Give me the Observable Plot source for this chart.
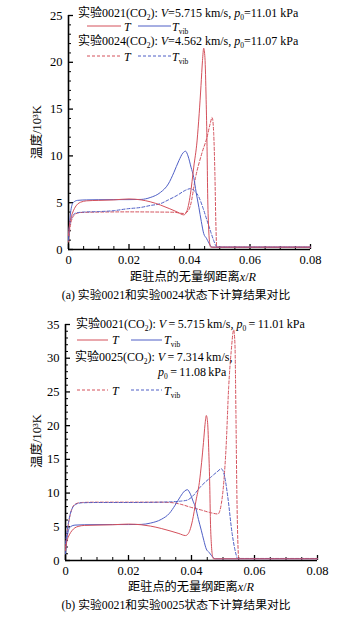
<!DOCTYPE html>
<html><head><meta charset="utf-8">
<script src="https://cdn.jsdelivr.net/npm/d3@7"></script>
<script src="https://cdn.jsdelivr.net/npm/@observablehq/plot@0.6"></script>
<style>
html,body{margin:0;padding:0;background:#fff;}
#wrap{position:relative;width:358px;height:619px;overflow:hidden;font-family:"Liberation Serif","Noto Sans CJK SC",serif;color:#000;}
.abs{position:absolute;white-space:nowrap;line-height:1;}
.sub{font-size:7.5px;position:relative;top:3px;}
.lg{font-size:12px;transform:translateY(-50%);}
.ctr{transform:translate(-50%,-50%);}
</style></head><body><div id="wrap"></div>
<script>
// ---------- data ----------
// Experiment 0021 (CO2): translational temperature T (10^3 K)
const x0021T = [0, 0.0004, 0.0008, 0.0012, 0.002, 0.003, 0.004, 0.006, 0.01, 0.015, 0.02, 0.024, 0.027, 0.0304, 0.0335, 0.036, 0.0381, 0.039, 0.0403, 0.0414, 0.0425, 0.0432, 0.0438, 0.0443, 0.0447, 0.0451, 0.0455, 0.0458, 0.046, 0.0463, 0.0467, 0.047, 0.08];
const T0021 = [1.5, 2.8, 3.4, 3.8, 4.4, 4.85, 5.05, 5.2, 5.25, 5.3, 5.4, 5.3, 5.1, 4.75, 4.35, 4.0, 3.7, 4.0, 5.9, 8.8, 11.6, 14.5, 17.5, 20.2, 21.5, 20.5, 16, 11, 6, 2.5, 0.6, 0.25, 0.25];
// Experiment 0021: vibrational temperature Tvib
const x0021V = [0, 0.0004, 0.0008, 0.0012, 0.0017, 0.003, 0.006, 0.01, 0.015, 0.02, 0.024, 0.027, 0.0304, 0.033, 0.0348, 0.0365, 0.0378, 0.0387, 0.0395, 0.0405, 0.0414, 0.0422, 0.0431, 0.0439, 0.0447, 0.0456, 0.0464, 0.0472, 0.0476, 0.08];
const Tvib0021 = [1.0, 3.0, 4.2, 4.8, 5.05, 5.25, 5.3, 5.32, 5.33, 5.33, 5.35, 5.55, 6.1, 7.0, 8.2, 9.5, 10.3, 10.5, 10.0, 8.8, 7.7, 6.1, 4.5, 3.0, 1.7, 1.2, 0.7, 0.3, 0.25, 0.25];
// Experiment 0024
const x0024T = [0, 0.0005, 0.001, 0.0017, 0.0023, 0.004, 0.01, 0.02, 0.03, 0.0348, 0.038, 0.0395, 0.0403, 0.042, 0.0442, 0.0458, 0.0468, 0.0475, 0.048, 0.0484, 0.0487, 0.049, 0.08];
const T0024 = [0.8, 2.3, 3.1, 3.6, 3.8, 3.95, 4.0, 4.02, 4.0, 3.98, 3.85, 4.1, 4.7, 7.7, 10.4, 12.0, 13.4, 14.1, 12.4, 8.0, 3.0, 0.25, 0.25];
const x0024V = [0, 0.0005, 0.001, 0.0017, 0.0025, 0.005, 0.01, 0.015, 0.0194, 0.024, 0.027, 0.0304, 0.033, 0.036, 0.0385, 0.0403, 0.0415, 0.0431, 0.0445, 0.0458, 0.047, 0.048, 0.0487, 0.0491, 0.08];
const Tvib0024 = [1.6, 2.8, 3.4, 3.75, 3.9, 4.0, 4.05, 4.15, 4.35, 4.5, 4.7, 4.9, 5.3, 5.8, 6.3, 6.5, 6.3, 5.6, 4.4, 3.1, 1.9, 0.96, 0.4, 0.25, 0.25];
// Experiment 0025
const x0025T = [0, 0.0005, 0.001, 0.0015, 0.002, 0.0032, 0.005, 0.01, 0.02, 0.03, 0.0333, 0.0365, 0.0397, 0.043, 0.046, 0.0484, 0.0495, 0.0503, 0.051, 0.0518, 0.0526, 0.0534, 0.0538, 0.0541, 0.0544, 0.0547, 0.055, 0.08];
const T0025 = [2.0, 4.0, 5.6, 6.8, 7.6, 8.4, 8.6, 8.65, 8.65, 8.65, 8.6, 8.35, 7.9, 7.5, 7.1, 6.9, 8.5, 11.9, 17, 25.7, 31, 34.2, 32, 22, 10, 3, 0.3, 0.3];
const x0025V = [0, 0.0005, 0.001, 0.0015, 0.002, 0.0032, 0.005, 0.01, 0.02, 0.03, 0.0333, 0.0365, 0.0386, 0.0405, 0.0428, 0.046, 0.048, 0.0495, 0.0505, 0.0515, 0.0529, 0.0537, 0.0542, 0.0546, 0.08];
const Tvib0025 = [2.5, 4.4, 5.8, 6.9, 7.6, 8.3, 8.55, 8.6, 8.6, 8.65, 8.7, 8.8, 8.95, 9.6, 10.9, 12.3, 13.1, 13.6, 12.5, 9.5, 4.0, 1.8, 0.8, 0.3, 0.3];

// tick labels
const xMajor = [0, 0.02, 0.04, 0.06, 0.08];
const xTickLabels = ["0", "0.02", "0.04", "0.06", "0.08"];
const xMinor = [0.005, 0.01, 0.015, 0.025, 0.03, 0.035, 0.045, 0.05, 0.055, 0.065, 0.07, 0.075];
const yMajorA = [0, 5, 10, 15, 20, 25];
const yMajorB = [0, 5, 10, 15, 20, 25, 30, 35];

// legend / text values
const expA = ["0021", "0024"], velA = ["5.715", "4.562"], presA = ["11.01", "11.07"];
const expB = ["0021", "0025"], velB = ["5.715", "7.314"], presB = ["11.01", "11.08"];
const xLabel = "距驻点的无量纲距离";
const yLabel = "温度/10³K";
const captionA = "(a) 实验0021和实验0024状态下计算结果对比";
const captionB = "(b) 实验0021和实验0025状态下计算结果对比";

const RED = "#d4505b", BLUE = "#4f5fc6";
const DASH = "3,2";

// ---------- helpers ----------
const rows = (xs, ys) => xs.map((x, i) => ({x, t: ys[i]}));
const FONT = "'Liberation Serif','Noto Sans CJK SC',serif";

function chart({yMax, yMajor, series, height, mt, mb, ml, mr}) {
  const yMinor = d3.range(0, yMax + 0.001, 1).filter(v => v % 5 !== 0);
  return Plot.plot({
    width: 358, height, marginTop: mt, marginBottom: mb, marginLeft: ml, marginRight: mr,
    style: {fontFamily: FONT, fontSize: "12.5px", color: "#000", background: "none", overflow: "visible"},
    x: {domain: [0, 0.08]},
    y: {domain: [0, yMax]},
    marks: [
      Plot.ruleX([0], {stroke: "#000", strokeWidth: 1.6}),
      Plot.ruleY([0], {stroke: "#000", strokeWidth: 1.6}),
      Plot.axisX({ticks: xMinor, tickSize: -3, tickFormat: () => "", label: null, strokeWidth: 1}),
      Plot.axisX({ticks: xMajor, tickSize: -5, tickPadding: 11, tickFormat: d => xTickLabels[xMajor.indexOf(d)], label: null, strokeWidth: 1.3}),
      Plot.axisY({ticks: yMinor, tickSize: -3, tickFormat: () => "", label: null, strokeWidth: 1}),
      Plot.axisY({ticks: yMajor, tickSize: -5, tickPadding: 11, tickFormat: d => String(d), label: null, strokeWidth: 1.3}),
      ...series.map(s => Plot.line(s.data, {x: "x", y: "t", stroke: s.color, strokeWidth: 1, strokeDasharray: s.dash || null, curve: "monotone-x"}))
    ]
  });
}

const wrap = document.getElementById("wrap");
function place(node, left, top) {
  const d = document.createElement("div");
  d.className = "abs";
  d.style.left = left + "px"; d.style.top = top + "px";
  d.appendChild(node);
  wrap.appendChild(d);
  return d;
}
function html(str, left, top, cls, size) {
  const d = document.createElement("div");
  d.className = "abs " + (cls || "");
  d.style.left = left + "px"; d.style.top = top + "px";
  if (size) d.style.fontSize = size + "px";
  d.innerHTML = str;
  wrap.appendChild(d);
  return d;
}
function sample(x1, x2, y, color, dash) {
  const ns = "http://www.w3.org/2000/svg";
  const svg = document.createElementNS(ns, "svg");
  svg.setAttribute("width", x2 - x1); svg.setAttribute("height", 4);
  svg.style.position = "absolute"; svg.style.left = x1 + "px"; svg.style.top = (y - 2) + "px";
  const l = document.createElementNS(ns, "line");
  l.setAttribute("x1", 0); l.setAttribute("x2", x2 - x1); l.setAttribute("y1", 2); l.setAttribute("y2", 2);
  l.setAttribute("stroke", color); l.setAttribute("stroke-width", 1);
  if (dash) l.setAttribute("stroke-dasharray", dash);
  svg.appendChild(l);
  wrap.appendChild(svg);
}
const sub = s => `<span class="sub">${s}</span>`;
const TS = "\u2009";

// ---------- chart (a) ----------
const svgA = chart({
  yMax: 25, yMajor: yMajorA, height: 270, mt: 15, mb: 21, ml: 68, mr: 48,
  series: [
    {data: rows(x0024T, T0024), color: RED, dash: DASH},
    {data: rows(x0024V, Tvib0024), color: BLUE, dash: DASH},
    {data: rows(x0021V, Tvib0021), color: BLUE},
    {data: rows(x0021T, T0021), color: RED}
  ]
});
place(svgA, 0, 0);

// ---------- chart (b) ----------
const svgB = chart({
  yMax: 35, yMajor: yMajorB, height: 275, mt: 14, mb: 25, ml: 65, mr: 41,
  series: [
    {data: rows(x0025T, T0025), color: RED, dash: DASH},
    {data: rows(x0025V, Tvib0025), color: BLUE, dash: DASH},
    {data: rows(x0021V, Tvib0021), color: BLUE},
    {data: rows(x0021T, T0021), color: RED}
  ]
});
place(svgB, 0, 310);

// ---------- legends (a) ----------
html(`实验${expA[0]}(CO${sub(2)}): <i>V</i>=${velA[0]} km/s, <i>p</i>${sub(0)}=${presA[0]} kPa`, 78, 12.5, "lg");
sample(87, 121, 26, RED); html(`<i>T</i>`, 124, 26.5, "lg");
sample(138, 171, 26, BLUE); html(`<i>T</i>${sub("vib")}`, 172, 26.5, "lg");
html(`实验${expA[1]}(CO${sub(2)}): <i>V</i>=${velA[1]} km/s, <i>p</i>${sub(0)}=${presA[1]} kPa`, 78, 41, "lg");
sample(87, 121, 56, RED, DASH); html(`<i>T</i>`, 124, 56.5, "lg");
sample(138, 171, 56, BLUE, DASH); html(`<i>T</i>${sub("vib")}`, 172, 56.5, "lg");

// ---------- legends (b) ----------
html(`实验${expB[0]}(CO${sub(2)}): <i>V</i>${TS}=${TS}${velB[0]}${TS}km/s, <i>p</i>${sub(0)}${TS}=${TS}${presB[0]}${TS}kPa`, 76, 324, "lg");
sample(77, 108, 339.5, RED); html(`<i>T</i>`, 112, 340, "lg");
sample(131, 162, 339.5, BLUE); html(`<i>T</i>${sub("vib")}`, 164, 340, "lg");
html(`实验${expB[1]}(CO${sub(2)}): <i>V</i>${TS}=${TS}${velB[1]}${TS}km/s,`, 75, 357, "lg");
html(`<i>p</i>${sub(0)}${TS}=${TS}${presB[1]}${TS}kPa`, 158, 372, "lg");
sample(77, 108, 390, RED, DASH); html(`<i>T</i>`, 112, 390.5, "lg");
sample(131, 162, 390, BLUE, DASH); html(`<i>T</i>${sub("vib")}`, 164, 390.5, "lg");

// ---------- axis labels & captions ----------
const yl = (cy) => {
  const d = html(yLabel, 37, cy, "", 12.5);
  d.style.transform = "translate(-50%,-50%) rotate(-90deg)";
};
yl(132); yl(441);
html(`${xLabel}<i>x</i>/<i>R</i>`, 193, 277, "ctr", 12.2);
html(`${xLabel}<i>x</i>/<i>R</i>`, 191, 587, "ctr", 12.2);
html(captionA, 176, 296, "ctr", 11.8);
html(captionB, 176, 606, "ctr", 11.8);
</script></body></html>
